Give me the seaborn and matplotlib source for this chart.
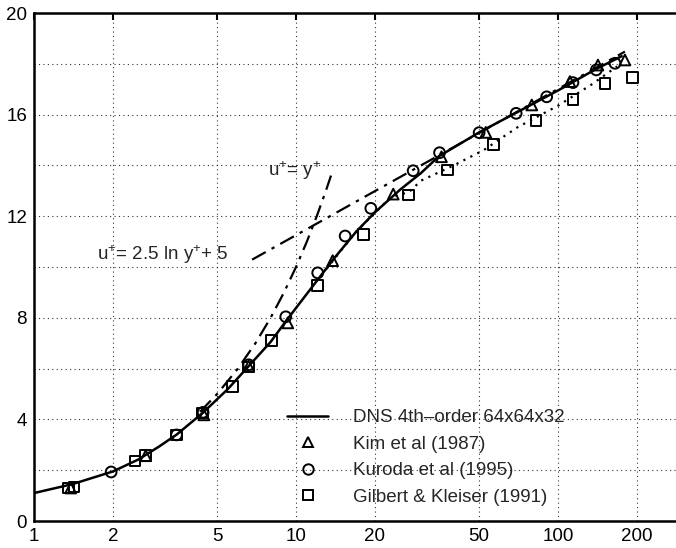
import matplotlib
matplotlib.use("Agg")
import matplotlib.pyplot as plt
from matplotlib.lines import Line2D
import seaborn as sns

# DNS 4th-order profile (solid line)
dns_x = [1, 1.4, 2, 2.5, 3, 3.5, 4.4, 5.5, 6.6, 8, 9.2, 12, 14, 17, 20, 25, 30, 35, 50, 70, 100, 140, 175]
dns_y = [1.1, 1.45, 1.95, 2.42, 2.93, 3.4, 4.25, 5.2, 6.1, 7.05, 7.9, 9.45, 10.35, 11.4, 12.15, 13.05, 13.7, 14.35, 15.3, 16.1, 16.95, 17.8, 18.3]

# second profile (dotted line)
dot_x = [12, 17, 23, 27, 30, 40, 52, 70, 100, 135, 168]
dot_y = [9.45, 11.4, 12.75, 12.95, 13.4, 14.0, 14.6, 15.5, 16.35, 17.2, 17.9]

# Kim et al (1987)
kim_x = [1.38, 2.67, 4.45, 6.6, 9.3, 13.8, 23.5, 35.9, 53, 79.4, 111, 142, 180]
kim_y = [1.3, 2.57, 4.18, 6.1, 7.8, 10.25, 12.87, 14.34, 15.3, 16.38, 17.3, 17.95, 18.15]

# Kuroda et al (1995)
kur_x = [1.97, 3.5, 4.42, 6.6, 9.14, 12.1, 15.4, 19.3, 28, 35.3, 50, 69.2, 90.5, 114, 140, 165]
kur_y = [1.93, 3.39, 4.28, 6.15, 8.04, 9.77, 11.22, 12.31, 13.79, 14.5, 15.29, 16.05, 16.7, 17.26, 17.76, 18.02]

# Gilbert & Kleiser (1991)
gil_x = [1.35, 1.42, 2.43, 2.67, 3.5, 4.4, 5.71, 6.6, 8.08, 12.1, 18.1, 26.8, 37.9, 56.8, 82.4, 114, 151, 192]
gil_y = [1.3, 1.34, 2.36, 2.57, 3.39, 4.25, 5.31, 6.06, 7.10, 9.28, 11.29, 12.83, 13.82, 14.83, 15.76, 16.6, 17.23, 17.45]

# viscous sublayer u+ = y+
lin_x = [4.3, 5, 6, 7, 8, 9, 10, 11, 12, 13, 13.6]
lin_y = [4.3, 5, 6, 7, 8, 9, 10, 11, 12, 13, 13.6]

# log law (straight on semi-log axes)
log_x = [6.8, 180]
log_y = [10.29, 18.48]

x_ticks = [1, 2, 5, 10, 20, 50, 100, 200]
x_labels = ["1", "2", "5", "10", "20", "50", "100", "200"]
y_ticks = [0, 2, 4, 6, 8, 10, 12, 14, 16, 18, 20]
y_labels = ["0", "", "4", "", "8", "", "12", "", "16", "", "20"]

sns.set_style("white")
plt.rcParams["font.family"] = ["Liberation Sans", "DejaVu Sans"]
plt.rcParams["mathtext.default"] = "regular"
FS = 13.5

fig = plt.figure(figsize=(6.76, 5.48), dpi=100)
ax = fig.add_axes([34 / 676, 27 / 548, 1 - 34 / 676, 508 / 548])

dashdot = (0, (7, 3, 1.5, 3))
sns.lineplot(x=dns_x, y=dns_y, ax=ax, color="black", lw=1.8, sort=False)
sns.lineplot(x=dot_x, y=dot_y, ax=ax, color="black", lw=1.6, sort=False, linestyle=(0, (1, 2.5)))
sns.lineplot(x=lin_x, y=lin_y, ax=ax, color="black", lw=1.6, sort=False, linestyle=dashdot)
sns.lineplot(x=log_x, y=log_y, ax=ax, color="black", lw=1.6, sort=False, linestyle=dashdot)

mk = dict(facecolors="none", edgecolors="black", linewidths=1.4, s=60, zorder=5, ax=ax)
sns.scatterplot(x=kim_x, y=kim_y, marker="^", **mk)
sns.scatterplot(x=kur_x, y=kur_y, marker="o", **mk)
sns.scatterplot(x=gil_x, y=gil_y, marker="s", **mk)

ax.set_xscale("log")
ax.set_xlim(1, 282)
ax.set_ylim(0, 20)
ax.set_xticks(x_ticks)
ax.set_xticklabels(x_labels)
ax.xaxis.set_minor_locator(matplotlib.ticker.NullLocator())
ax.set_yticks(y_ticks)
ax.set_yticklabels(y_labels)

ax.grid(True, color="black", linestyle=(0, (1, 3)), linewidth=0.8, alpha=0.8)
ax.tick_params(axis="both", direction="in", length=5, width=1.5, labelsize=FS, pad=5,
               top=True, right=False, colors="black")
for side in ["left", "bottom", "top"]:
    ax.spines[side].set_linewidth(1.8)
    ax.spines[side].set_color("black")
ax.spines["right"].set_visible(False)

ax.text(7.8, 13.8, r"u$^{+}$= y$^{+}$", fontsize=FS, va="center", ha="left")
ax.text(1.74, 10.5, r"u$^{+}$= 2.5 ln y$^{+}$+ 5", fontsize=FS, va="center", ha="left")

handles = [
    Line2D([], [], color="black", lw=1.8),
    Line2D([], [], color="black", marker="^", ls="none", mfc="none", mew=1.4, ms=7.5),
    Line2D([], [], color="black", marker="o", ls="none", mfc="none", mew=1.4, ms=7.5),
    Line2D([], [], color="black", marker="s", ls="none", mfc="none", mew=1.4, ms=7),
]
labels = ["DNS 4th\u2013order 64x64x32", "Kim et al (1987)", "Kuroda et al (1995)", "Gilbert & Kleiser (1991)"]
fig.legend(handles, labels, loc="upper left", bbox_to_anchor=(287 / 676, 1 - 409 / 548),
           frameon=False, fontsize=FS, handlelength=2.2, handletextpad=1.3,
           labelspacing=0.5, borderpad=0, borderaxespad=0)

fig.savefig("out.png", dpi=100)
